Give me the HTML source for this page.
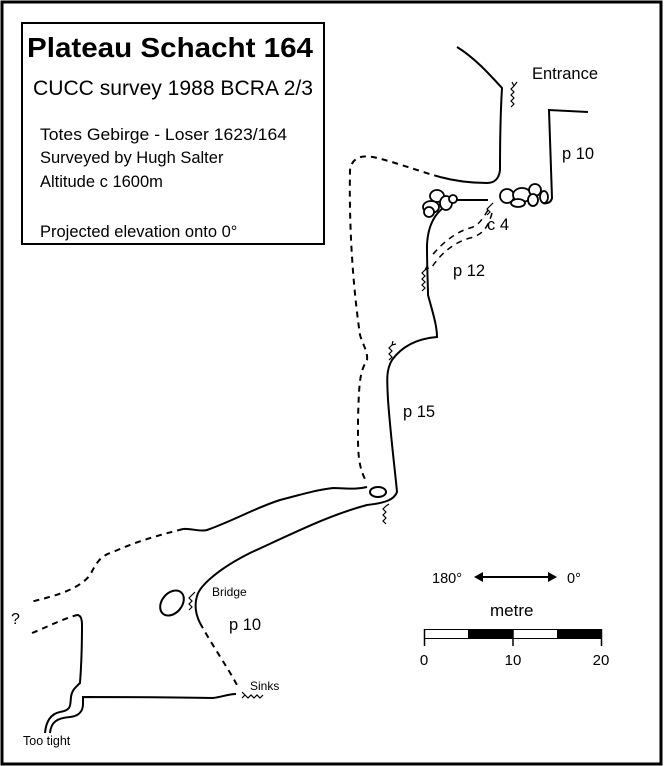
<!DOCTYPE html>
<html><head><meta charset="utf-8"><style>
html,body{margin:0;padding:0;background:#fff}
svg{display:block}
text{font-family:"Liberation Sans",sans-serif;fill:#000}
</style></head><body>
<svg width="668" height="766" viewBox="0 0 668 766" xmlns="http://www.w3.org/2000/svg">
<rect x="2" y="2" width="659" height="762" fill="#fff" stroke="#000" stroke-width="3"/>
<rect x="22" y="23" width="302" height="221" fill="#fff" stroke="#000" stroke-width="2"/>
<text x="27" y="57" font-size="28" font-weight="bold" textLength="286" lengthAdjust="spacingAndGlyphs">Plateau Schacht 164</text>
<text x="33" y="95" font-size="21" textLength="280" lengthAdjust="spacingAndGlyphs">CUCC survey 1988 BCRA 2/3</text>
<text x="40" y="140" font-size="16.5" textLength="247" lengthAdjust="spacingAndGlyphs">Totes Gebirge - Loser 1623/164</text>
<text x="40" y="163" font-size="16.5">Surveyed  by  Hugh Salter</text>
<text x="40" y="187" font-size="16.5">Altitude c 1600m</text>
<text x="40" y="237" font-size="16.5">Projected elevation onto 0°</text>

<g fill="none" stroke="#000" stroke-width="2">
<path d="M457,47 C475,58 490,75 502,88 C500,120 500,150 500,170 C499,180 493,183 487,183 C470,183 455,181 440,177"/>
<path d="M588,112 L549,110 L552,198 C551,203 546,204 543,203"/>
<path d="M455,200 L488,200"/>
<path d="M453,202 C435,210 428,225 427,245 C427,270 428,285 428,295 C432,310 437,325 437,337 C425,338 405,342 392,360 C386,370 387,380 388,400 C391,440 395,470 397,492 C394,500 385,503 367,505 C330,515 300,530 250,553 C220,568 200,585 197,596 C194,606 196,615 200,623"/>
<path d="M367,487 C355,490 345,488 333,488 C315,490 300,495 280,500 C255,508 235,520 207,530 C200,532 190,528 183,529"/>
<path d="M77,615 C80,615 82,618 82,625 C82,650 81,670 80,683 C75,688 72,690 71,697 C70,705 72,710 60,712 C50,714 46,722 45,733"/>
<path d="M50,733 C51,722 57,718 70,717 C80,716 83,710 83,704 L83,697 C130,697 170,697 213,698 C222,697 228,694 236,694"/>
<ellipse cx="378" cy="492" rx="8" ry="5"/>
<ellipse cx="172" cy="603" rx="10" ry="14" transform="rotate(40 172 603)"/>
</g>
<g fill="none" stroke="#000" stroke-width="2" stroke-dasharray="6,5">
<path d="M440,177 C415,170 395,162 373,157 C360,155 352,158 350,170 C349,220 352,280 360,335 C363,345 368,352 367,360 C360,372 359,380 358,420 C358,450 357,465 367,483"/>
<path d="M183,529 C160,535 140,540 113,552 C100,556 97,562 90,575 C80,588 60,595 30,602"/>
<path d="M32,633 C45,628 60,620 77,615"/>
<path d="M200,623 C212,645 228,668 237,685"/>
<path d="M488,210 C482,220 478,226 470,228 C455,232 440,245 430,258" stroke-width="1.5"/>
<path d="M492,213 C488,228 482,235 470,238 C452,243 440,255 432,267" stroke-width="1.5"/>
</g>
<g fill="#fff" stroke="#000" stroke-width="1.8">
<ellipse cx="437" cy="196" rx="7" ry="6"/>
<ellipse cx="431" cy="207" rx="8" ry="6"/>
<ellipse cx="446" cy="203" rx="6" ry="7"/>
<ellipse cx="429" cy="212" rx="5" ry="5"/>
<ellipse cx="453" cy="199" rx="4" ry="4"/>
<ellipse cx="507" cy="196" rx="7" ry="7"/>
<ellipse cx="522" cy="195" rx="9" ry="7"/>
<ellipse cx="535" cy="190" rx="6" ry="6"/>
<ellipse cx="533" cy="200" rx="5" ry="6"/>
<ellipse cx="544" cy="197" rx="4" ry="6"/>
<ellipse cx="518" cy="203" rx="7" ry="4"/>
</g>
<g fill="none" stroke="#000" stroke-width="1.2">
<path d="M514,86 l-3,3 3,3 -3,3 3,3 -3,3 3,3 -3,3 M514,86 l3,-4 M514,86 l-2,-4"/>
<path d="M425,270 l-3,3 3,3 -3,3 3,3 -3,3 3,3 -3,3 M425,270 l4,-2 M425,270 l2,-4"/>
<path d="M392,345 l-3,3 3,3 -3,3 3,3 -3,3 M392,345 l4,-1 M392,345 l1,-4"/>
<path d="M386,506 l-3,3 3,3 -3,3 3,3 -3,3 3,3 M386,506 l3,-2"/>
<path d="M192,595 l-3,3 3,3 -3,3 3,3 -3,3 M192,595 l3,-3"/>
<path d="M245,695 l3,3 3,-3 3,3 3,-3 3,3 3,-3 M245,695 l-3,-3 M245,695 l-3,3"/>
<path d="M490,206 l-3,3 3,3 -3,3 M490,206 l3,-3"/>
</g>
<text x="532" y="79" font-size="16.5">Entrance</text>
<text x="562" y="159" font-size="16.5">p 10</text>
<text x="487" y="230" font-size="16.5">c 4</text>
<text x="453" y="276" font-size="16.5">p 12</text>
<text x="403" y="417" font-size="16.5">p 15</text>
<text x="212" y="596" font-size="12">Bridge</text>
<text x="229" y="630" font-size="16.5">p 10</text>
<text x="250" y="690" font-size="12">Sinks</text>
<text x="23" y="745" font-size="12.5">Too tight</text>
<text x="11" y="624" font-size="16">?</text>

<text x="432" y="583" font-size="14.5">180°</text>
<text x="567" y="583" font-size="14.5">0°</text>
<line x1="480" y1="577" x2="551" y2="577" stroke="#000" stroke-width="2"/>
<path d="M474,577 L483,572 L483,582 Z M557,577 L548,572 L548,582 Z" fill="#000"/>
<text x="490" y="616" font-size="17">metre</text>
<rect x="424.5" y="629.5" width="177" height="9" fill="#fff" stroke="#000" stroke-width="1"/>
<rect x="468" y="629.5" width="45" height="9" fill="#000"/>
<rect x="557" y="629.5" width="45" height="9" fill="#000"/>
<path d="M424.5,629 V646 M513,629 V646 M601.5,629 V646" stroke="#000" stroke-width="1.5"/>
<text x="424" y="665" font-size="15" text-anchor="middle">0</text>
<text x="513" y="665" font-size="15" text-anchor="middle">10</text>
<text x="601" y="665" font-size="15" text-anchor="middle">20</text>
</svg>
</body></html>
